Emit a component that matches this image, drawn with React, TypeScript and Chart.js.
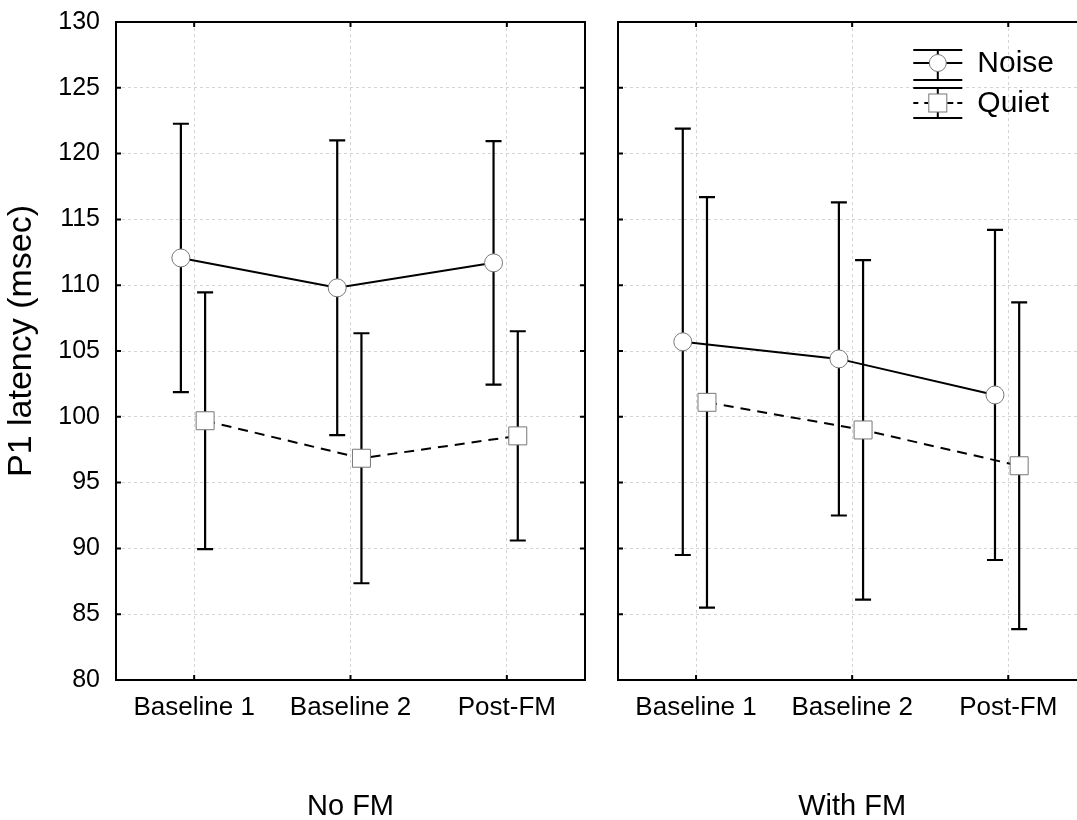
import React, { useEffect, useRef } from "react";
import { Chart, registerables } from "chart.js";

Chart.register(...registerables);

const FONT = "'Liberation Sans', Arial, Helvetica, sans-serif";

// ---- data ----
const categories = ["Baseline 1", "Baseline 2", "Post-FM"];
const panelTitles = ["No FM", "With FM"];
const seriesNames = ["Noise", "Quiet"];
const yAxisTitle = "P1 latency (msec)";
const yMin = 80;
const yMax = 130;
const yStep = 5;

const noFmNoiseMean = [112.07, 109.8, 111.7];
const noFmNoiseErr = [10.2, 11.2, 9.25];
const noFmQuietMean = [99.7, 96.85, 98.55];
const noFmQuietErr = [9.75, 9.5, 7.95];

const withFmNoiseMean = [105.7, 104.4, 101.66];
const withFmNoiseErr = [16.2, 11.9, 12.54];
const withFmQuietMean = [101.1, 99.0, 96.28];
const withFmQuietErr = [15.6, 12.9, 12.42];

// horizontal dodge of the two series inside a category (category units)
const NOISE_SHIFT = -0.085;
const QUIET_SHIFT = 0.07;

type PanelCfg = {
  noiseMean: number[];
  noiseErr: number[];
  quietMean: number[];
  quietErr: number[];
  title: string;
  showYLabels: boolean;
  yWidth: number;
  padRight: number;
  showLegend: boolean;
};

function makePanel(canvas: HTMLCanvasElement, cfg: PanelCfg) {
  const errorBars = {
    id: "errorBars",
    beforeDatasetsDraw(chart: any) {
      const ctx = chart.ctx;
      const ys = chart.scales.y;
      chart.data.datasets.forEach((ds: any, di: number) => {
        const meta = chart.getDatasetMeta(di);
        meta.data.forEach((pt: any, i: number) => {
          const m = ds.data[i].y;
          const e = ds.errors[i];
          const yTop = ys.getPixelForValue(m + e);
          const yBot = ys.getPixelForValue(m - e);
          ctx.save();
          ctx.strokeStyle = "#000";
          ctx.lineWidth = 2.2;
          ctx.setLineDash([]);
          ctx.beginPath();
          ctx.moveTo(pt.x, yTop);
          ctx.lineTo(pt.x, yBot);
          ctx.moveTo(pt.x - 8, yTop);
          ctx.lineTo(pt.x + 8, yTop);
          ctx.moveTo(pt.x - 8, yBot);
          ctx.lineTo(pt.x + 8, yBot);
          ctx.stroke();
          ctx.restore();
        });
      });
    },
  };

  const frame = {
    id: "frame",
    afterDraw(chart: any) {
      const ctx = chart.ctx;
      const ca = chart.chartArea;
      const xs = chart.scales.x;
      const ys = chart.scales.y;
      ctx.save();
      ctx.strokeStyle = "#000";
      ctx.lineWidth = 2;
      ctx.setLineDash([]);
      ctx.strokeRect(ca.left, ca.top, ca.right - ca.left, ca.bottom - ca.top);
      const L = 5;
      ctx.beginPath();
      xs.ticks.forEach((t: any) => {
        const x = xs.getPixelForValue(t.value);
        ctx.moveTo(x, ca.bottom);
        ctx.lineTo(x, ca.bottom - L);
        ctx.moveTo(x, ca.top);
        ctx.lineTo(x, ca.top + L);
      });
      ys.ticks.forEach((t: any) => {
        const y = ys.getPixelForValue(t.value);
        ctx.moveTo(ca.left, y);
        ctx.lineTo(ca.left + L, y);
        ctx.moveTo(ca.right, y);
        ctx.lineTo(ca.right - L, y);
      });
      ctx.stroke();

      // panel title
      ctx.fillStyle = "#000";
      ctx.font = `29px ${FONT}`;
      ctx.textAlign = "center";
      ctx.textBaseline = "middle";
      ctx.fillText(cfg.title, (ca.left + ca.right) / 2, 807);

      // y axis title
      if (cfg.showYLabels) {
        ctx.save();
        ctx.translate(22, (ca.top + ca.bottom) / 2 - 10);
        ctx.rotate(-Math.PI / 2);
        ctx.font = `34px ${FONT}`;
        ctx.textAlign = "center";
        ctx.textBaseline = "middle";
        ctx.fillText(yAxisTitle, 0, 0);
        ctx.restore();
      }

      if (cfg.showLegend) {
        const x0 = ca.right - 173;
        const x1 = ca.right - 124;
        const cx = (x0 + x1) / 2;
        const tx = ca.right - 109;
        ctx.lineWidth = 2;
        ctx.strokeStyle = "#000";
        // Noise
        const nTop = ca.top + 28;
        const nMid = ca.top + 41;
        const nBot = ca.top + 58;
        ctx.beginPath();
        ctx.moveTo(x0, nTop); ctx.lineTo(x1, nTop);
        ctx.moveTo(x0, nBot); ctx.lineTo(x1, nBot);
        ctx.moveTo(cx, nTop); ctx.lineTo(cx, nBot);
        ctx.moveTo(x0, nMid); ctx.lineTo(x1, nMid);
        ctx.stroke();
        ctx.beginPath();
        ctx.arc(cx, nMid, 8.5, 0, Math.PI * 2);
        ctx.fillStyle = "#fff";
        ctx.fill();
        ctx.lineWidth = 1;
        ctx.strokeStyle = "#777";
        ctx.stroke();
        // Quiet
        const qTop = ca.top + 66;
        const qMid = ca.top + 81;
        const qBot = ca.top + 96;
        ctx.lineWidth = 2;
        ctx.strokeStyle = "#000";
        ctx.beginPath();
        ctx.moveTo(x0, qTop); ctx.lineTo(x1, qTop);
        ctx.moveTo(x0, qBot); ctx.lineTo(x1, qBot);
        ctx.moveTo(cx, qTop); ctx.lineTo(cx, qBot);
        ctx.moveTo(x0, qMid); ctx.lineTo(x0 + 5, qMid);
        ctx.moveTo(x0 + 11, qMid); ctx.lineTo(x0 + 15, qMid);
        ctx.moveTo(x1 - 15, qMid); ctx.lineTo(x1 - 9, qMid);
        ctx.moveTo(x1 - 5, qMid); ctx.lineTo(x1, qMid);
        ctx.stroke();
        ctx.fillStyle = "#fff";
        ctx.fillRect(cx - 9, qMid - 9, 18, 18);
        ctx.lineWidth = 1;
        ctx.strokeStyle = "#777";
        ctx.strokeRect(cx - 9, qMid - 9, 18, 18);

        ctx.fillStyle = "#000";
        ctx.font = `30px ${FONT}`;
        ctx.textAlign = "left";
        ctx.textBaseline = "middle";
        ctx.fillText(seriesNames[0], tx, nMid + 1);
        ctx.fillText(seriesNames[1], tx, qMid + 1);
      }
      ctx.restore();
    },
  };

  const gridColor = "#d4d4d4";

  return new Chart(canvas, {
    type: "line",
    data: {
      datasets: [
        {
          label: seriesNames[0],
          data: cfg.noiseMean.map((v, i) => ({ x: i + NOISE_SHIFT, y: v })),
          errors: cfg.noiseErr,
          borderColor: "#000",
          borderWidth: 2,
          pointStyle: "circle",
          pointRadius: 9,
          pointBackgroundColor: "#fff",
          pointBorderColor: "#777",
          pointBorderWidth: 1,
          tension: 0,
        } as any,
        {
          label: seriesNames[1],
          data: cfg.quietMean.map((v, i) => ({ x: i + QUIET_SHIFT, y: v })),
          errors: cfg.quietErr,
          borderColor: "#000",
          borderWidth: 2,
          borderDash: [10, 7],
          pointStyle: "rect",
          pointRadius: 12.7,
          pointBackgroundColor: "#fff",
          pointBorderColor: "#777",
          pointBorderWidth: 1,
          tension: 0,
        } as any,
      ],
    },
    options: {
      responsive: false,
      animation: false,
      events: [],
      layout: { padding: { left: 0, top: 22, right: cfg.padRight, bottom: 0 } },
      plugins: {
        legend: { display: false },
        tooltip: { enabled: false },
      },
      scales: {
        x: {
          type: "linear",
          min: -0.5,
          max: 2.5,
          afterBuildTicks: (s: any) => {
            s.ticks = categories.map((_, i) => ({ value: i }));
          },
          afterFit: (s: any) => {
            s.height = 140;
            s.paddingLeft = 0;
            s.paddingRight = 0;
          },
          ticks: {
            callback: (v: any) => categories[Math.round(Number(v))] ?? "",
            font: { size: 26, family: FONT },
            color: "#000",
            padding: 12,
            maxRotation: 0,
            autoSkip: false,
          },
          grid: { color: gridColor, lineWidth: 1, drawTicks: false },
          border: { display: false, dash: [3, 3] },
        },
        y: {
          min: yMin,
          max: yMax,
          afterFit: (s: any) => {
            s.width = cfg.yWidth;
            s.paddingTop = 0;
            s.paddingBottom = 0;
          },
          ticks: {
            stepSize: yStep,
            display: cfg.showYLabels,
            font: { size: 25, family: FONT },
            color: "#000",
            padding: 16,
          },
          grid: { color: gridColor, lineWidth: 1, drawTicks: false },
          border: { display: false, dash: [3, 3] },
        },
      },
    } as any,
    plugins: [errorBars, frame],
  } as any);
}

export default function App() {
  const leftRef = useRef<HTMLCanvasElement>(null);
  const rightRef = useRef<HTMLCanvasElement>(null);

  useEffect(() => {
    const a = makePanel(leftRef.current!, {
      noiseMean: noFmNoiseMean,
      noiseErr: noFmNoiseErr,
      quietMean: noFmQuietMean,
      quietErr: noFmQuietErr,
      title: panelTitles[0],
      showYLabels: true,
      yWidth: 116,
      padRight: 15,
      showLegend: false,
    });
    const b = makePanel(rightRef.current!, {
      noiseMean: withFmNoiseMean,
      noiseErr: withFmNoiseErr,
      quietMean: withFmQuietMean,
      quietErr: withFmQuietErr,
      title: panelTitles[1],
      showYLabels: false,
      yWidth: 18,
      padRight: 10,
      showLegend: true,
    });
    return () => {
      a.destroy();
      b.destroy();
    };
  }, []);

  return (
    <div
      style={{
        position: "absolute",
        left: 0,
        top: 0,
        width: 1077,
        height: 820,
        overflow: "hidden",
        background: "#fff",
      }}
    >
      <canvas
        ref={leftRef}
        width={600}
        height={820}
        style={{ position: "absolute", left: 0, top: 0, width: 600, height: 820 }}
      />
      <canvas
        ref={rightRef}
        width={500}
        height={820}
        style={{ position: "absolute", left: 600, top: 0, width: 500, height: 820 }}
      />
    </div>
  );
}
